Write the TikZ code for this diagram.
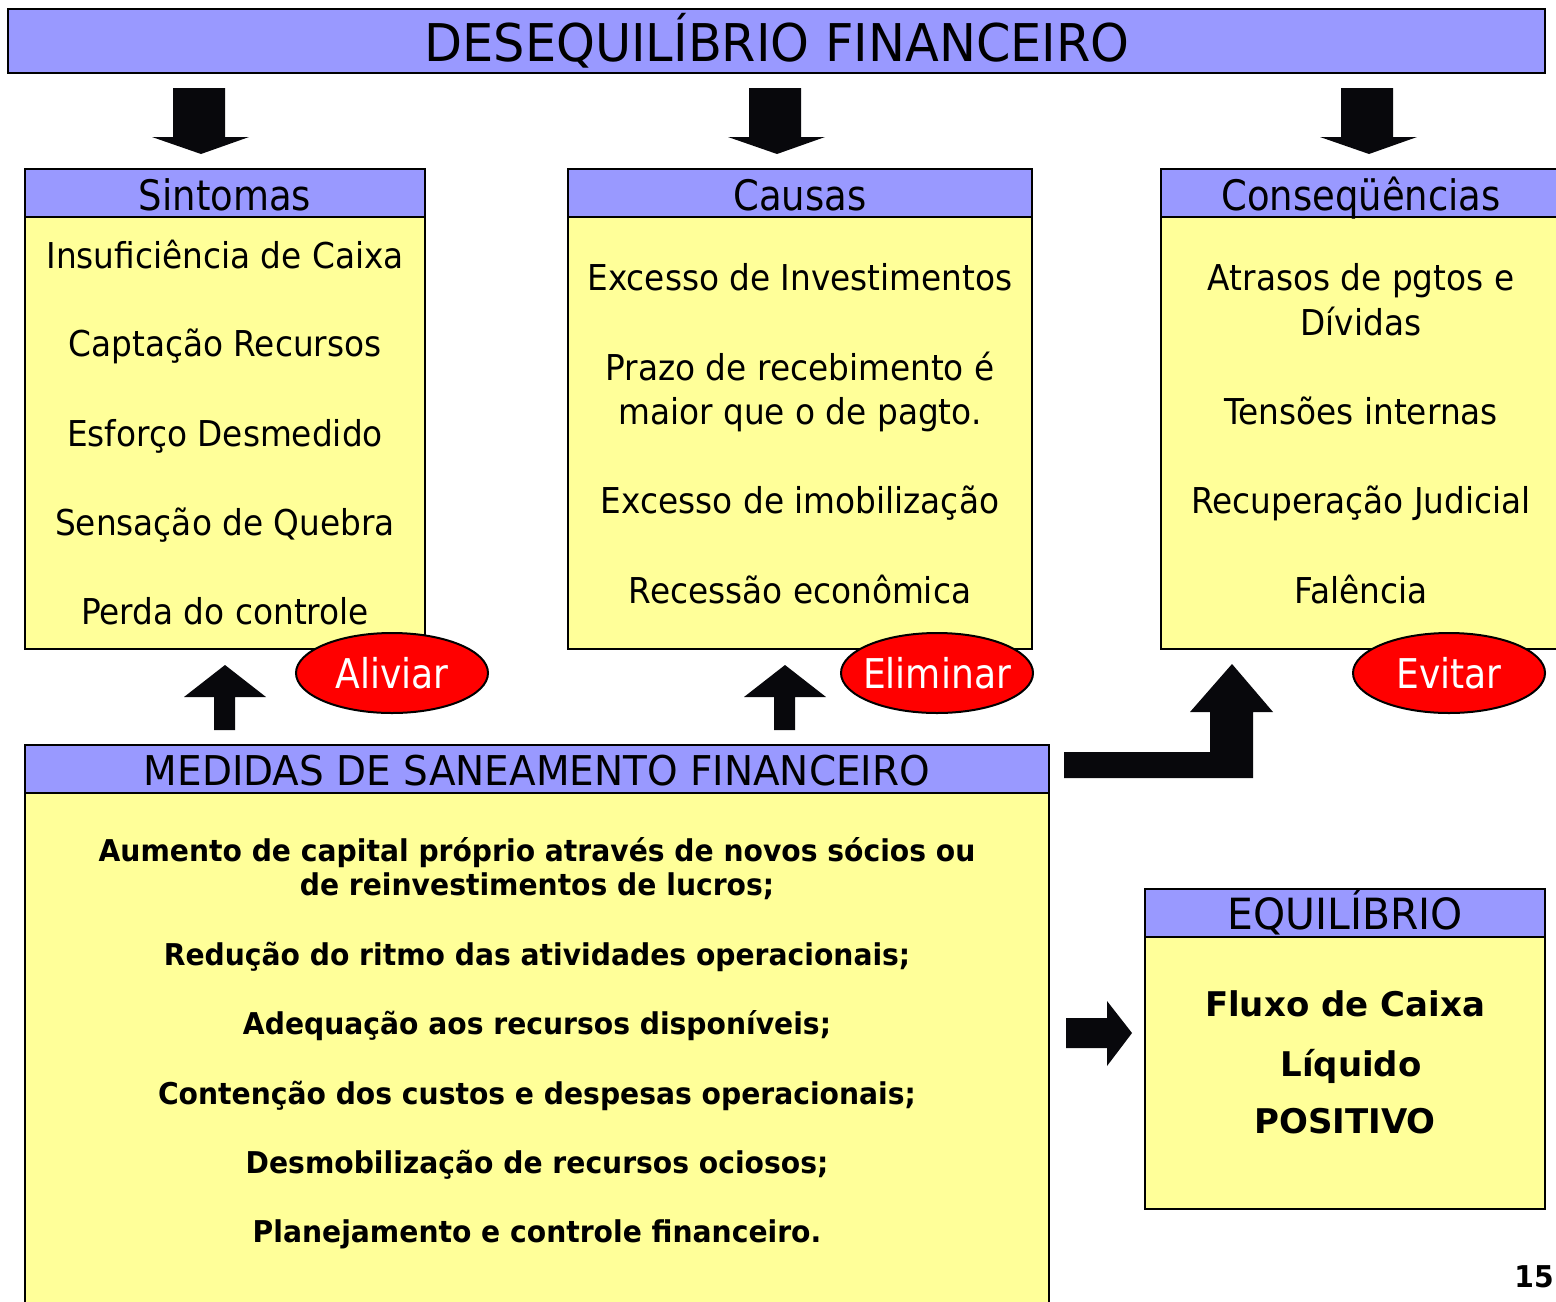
\documentclass[tikz,border=0pt]{standalone}
\usepackage{fontspec}
\usetikzlibrary{shapes.geometric}
\newfontfamily\tahA{DejaVu Sans}[FakeStretch=0.88]
\newfontfamily\tahB{DejaVu Sans}[FakeStretch=0.92]
\newfontfamily\tahC{DejaVu Sans}[FakeStretch=0.95]
\newfontfamily\verd{DejaVu Sans}
\newfontfamily\verdN{DejaVu Sans}[FakeStretch=0.94]
\definecolor{hblue}{HTML}{9999FF}
\definecolor{byellow}{HTML}{FFFF99}
\definecolor{ablack}{HTML}{08080C}
\tikzset{
  hdr/.style={draw=black, line width=1pt, fill=hblue},
  bodybox/.style={draw=black, line width=1pt, fill=byellow},
  blk/.style={fill=ablack, draw=none},
  lbl/.style={inner sep=0pt, text depth=0pt, anchor=center},
  item/.style={lbl, text height=13pt, font=\tahB\fontsize{17.8}{21}\selectfont},
  head/.style={lbl, text height=15.3pt, font=\tahA\fontsize{21}{25}\selectfont},
  big/.style={lbl, text height=15pt, font=\tahC\fontsize{20.5}{24}\selectfont},
  bigeq/.style={lbl, text height=15.7pt, font=\tahC\fontsize{21.5}{25}\selectfont},
  title/.style={lbl, text height=19pt, font=\tahC\fontsize{26}{30}\selectfont},
  bitem/.style={lbl, text height=10.9pt, font=\verdN\bfseries\fontsize{15}{18}\selectfont},
  eitem/.style={lbl, text height=12.4pt, font=\verd\bfseries\fontsize{17}{20}\selectfont},
  oval/.style={ellipse, draw=black, line width=1pt, fill=red, minimum width=96pt, minimum height=40pt, inner sep=0pt},
  ovaltext/.style={lbl, text height=15pt, text=white, font=\tahA\fontsize{20.5}{24}\selectfont},
}
\begin{document}
\begin{tikzpicture}[x=0.5pt, y=-0.5pt]
\useasboundingbox (0,0) rectangle (1556,1301);
\clip (0,0) rectangle (1556,1301);
\fill[white] (0,0) rectangle (1556,1301);

% title banner
\draw[hdr] (8,9) rectangle (1545,73);
\node[title] (title) at (777,42) {DESEQUILÍBRIO FINANCEIRO};

% down arrows
\foreach \cx in {201, 777, 1369}{
  \fill[blk] (\cx-28,88) -- (\cx+24,88) -- (\cx+24,137) -- (\cx+48,137) -- (\cx,154) -- (\cx-49,137) -- (\cx-28,137) -- cycle;
}

% Sintomas
\draw[bodybox] (25,217) rectangle (425,649);
\draw[hdr] (25,169) rectangle (425,217);
\node[head] (sint) at (225,195) {Sintomas};
\node[item] (s1) at (225,255) {Insuficiência de Caixa};
\node[item] (s2) at (225,343) {Captação Recursos};
\node[item] (s3) at (225,433) {Esforço Desmedido};
\node[item] (s4) at (225,522) {Sensação de Quebra};
\node[item] (s5) at (225,611) {Perda do controle};

% Causas
\draw[bodybox] (568,217) rectangle (1032,649);
\draw[hdr] (568,169) rectangle (1032,217);
\node[head] (caus) at (800,195) {Causas};
\node[item] (c1) at (800,277) {Excesso de Investimentos};
\node[item] (c2) at (800,367) {Prazo de recebimento é};
\node[item] (c3) at (800,411) {maior que o de pagto.};
\node[item] (c4) at (800,500) {Excesso de imobilização};
\node[item] (c5) at (800,590) {Recessão econômica};

% Consequencias
\draw[bodybox] (1161,217) rectangle (1570,649);
\draw[hdr] (1161,169) rectangle (1570,217);
\node[head] (cons) at (1361,195) {Conseqüências};
\node[item] (q1) at (1361,277) {Atrasos de pgtos e};
\node[item] (q2) at (1361,322) {Dívidas};
\node[item] (q3) at (1361,411) {Tensões internas};
\node[item] (q4) at (1361,500) {Recuperação Judicial};
\node[item] (q5) at (1361,590) {Falência};

% ovals
\node[oval] (alv) at (392,673) {};
\node[ovaltext] at (alv.center) {Aliviar};
\node[oval] (elm) at (937,673) {};
\node[ovaltext] at (elm.center) {Eliminar};
\node[oval] (evt) at (1449,673) {};
\node[ovaltext] at (evt.center) {Evitar};

% up arrows
\foreach \cx in {225,785}{
  \fill[blk] (\cx-11,730) -- (\cx-11,697) -- (\cx-41,697) -- (\cx,665) -- (\cx+41,697) -- (\cx+10,697) -- (\cx+10,730) -- cycle;
}

% bent arrow
\fill[blk] (1064,752) -- (1210,752) -- (1210,712) -- (1190,712) -- (1232,664) -- (1273,712) -- (1253,712) -- (1253,778) -- (1064,778) -- cycle;

% Medidas
\draw[bodybox] (25,793) rectangle (1049,1320);
\draw[hdr] (25,745) rectangle (1049,793);
\node[big] (med) at (537,770) {MEDIDAS DE SANEAMENTO FINANCEIRO};
\node[bitem] (m1) at (537,851) {Aumento de capital próprio através de novos sócios ou};
\node[bitem] (m2) at (537,885) {de reinvestimentos de lucros;};
\node[bitem] (m3) at (537,955) {Redução do ritmo das atividades operacionais;};
\node[bitem] (m4) at (537,1024) {Adequação aos recursos disponíveis;};
\node[bitem] (m5) at (537,1094) {Contenção dos custos e despesas operacionais;};
\node[bitem] (m6) at (537,1163) {Desmobilização de recursos ociosos;};
\node[bitem] (m7) at (537,1232) {Planejamento e controle financeiro.};

% right arrow
\fill[blk] (1066,1018) -- (1107,1018) -- (1107,1001) -- (1132,1033) -- (1107,1066) -- (1107,1048) -- (1066,1048) -- cycle;

% Equilibrio
\draw[bodybox] (1145,937) rectangle (1545,1209);
\draw[hdr] (1145,889) rectangle (1545,937);
\node[bigeq] (eq) at (1345,914) {EQUILÍBRIO};
\node[eitem] (e1) at (1345,1004) {Fluxo de Caixa};
\node[eitem] (e2) at (1351,1064) {Líquido};
\node[eitem] (e3) at (1345,1121) {POSITIVO};

% page number
\node[bitem, anchor=east] (pg) at (1554,1277) {15};
\end{tikzpicture}
\end{document}
